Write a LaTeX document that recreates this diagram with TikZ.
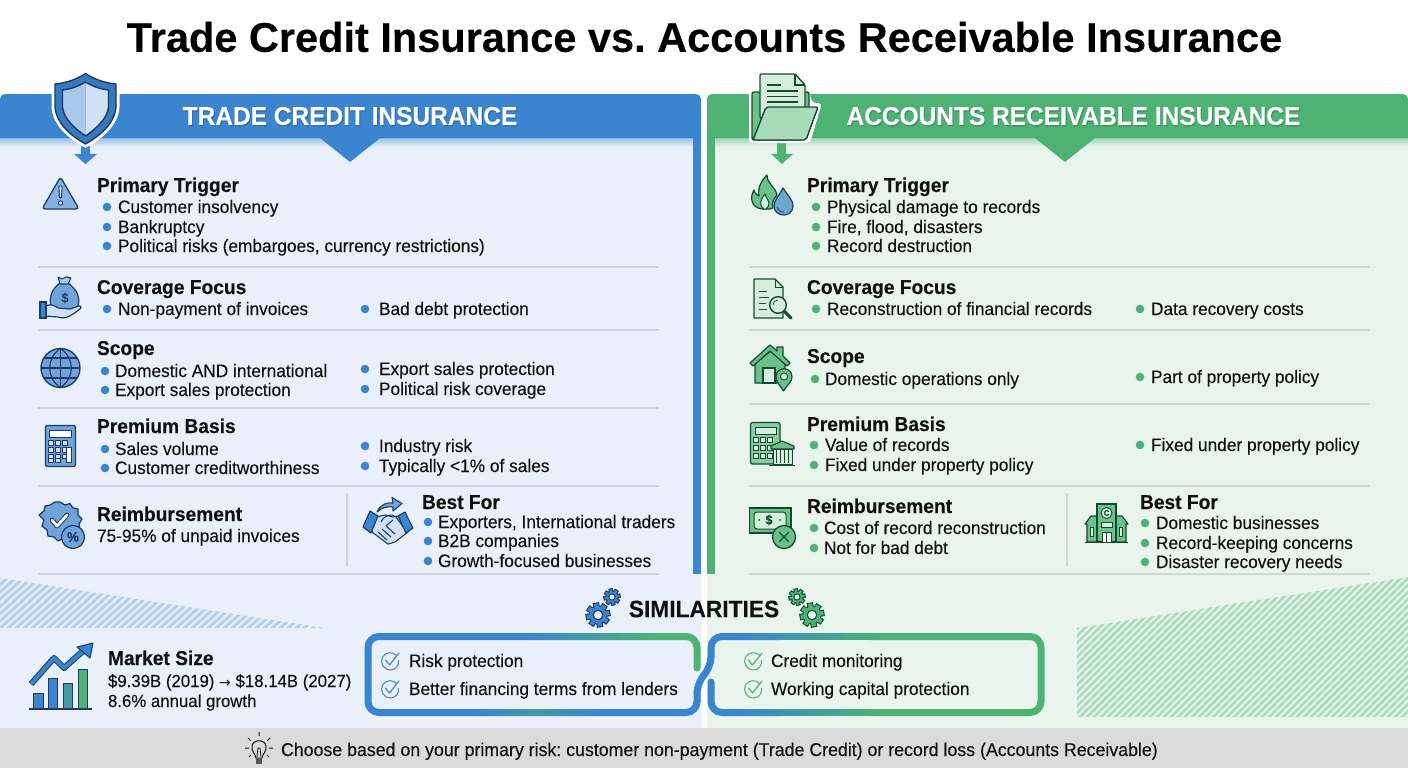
\documentclass[tikz,border=0pt]{standalone}
\usepackage{fontspec}
\setmainfont[FakeStretch=0.96,FakeBold=0.12]{Liberation Sans}
\newfontfamily\titlefont[FakeBold=0.25]{Liberation Sans Bold}
\newfontfamily\arrowfont{DejaVu Sans}
\usetikzlibrary{calc}
\definecolor{bluemain}{HTML}{3B84CF}
\definecolor{greenmain}{HTML}{4DB274}
\definecolor{bluepanel}{HTML}{E9F0F9}
\definecolor{greenpanel}{HTML}{E8F4EC}
\definecolor{navy}{HTML}{1C3A63}
\definecolor{bluelight}{HTML}{A9C9EA}
\definecolor{bluepale}{HTML}{CFE1F3}
\definecolor{bluemid}{HTML}{6FA3DA}
\definecolor{darkgreen}{HTML}{14492E}
\definecolor{greenlight}{HTML}{A8DBB8}
\definecolor{greenpale}{HTML}{D5EEDC}
\definecolor{greenmid}{HTML}{6CC08B}
\definecolor{rulecol}{HTML}{CDD3DC}
\definecolor{rulegreen}{HTML}{CBD9D0}
\definecolor{footer}{HTML}{DBDBDB}
\definecolor{ink}{HTML}{111111}
\colorlet{teal55}{bluemain!55!greenmain}
\tikzset{
  every node/.style={inner sep=0pt,outer sep=0pt},
  titletext/.style={font=\fontsize{41.5}{44}\titlefont,text=black,anchor=center},
  headtext/.style={font=\fontsize{25.5}{30}\selectfont\bfseries,text=white,anchor=center},
  headshadow/.style={font=\fontsize{25.5}{30}\selectfont\bfseries,anchor=center,opacity=.28},
  sechead/.style={font=\fontsize{20}{24}\selectfont\bfseries,text=ink,anchor=base west},
  bodytext/.style={font=\fontsize{18}{22}\selectfont,text=ink,anchor=base west},
  marktext/.style={font=\fontsize{17.5}{22}\selectfont,text=ink,anchor=base west},
  foottext/.style={font=\fontsize{18.5}{22}\selectfont,text=ink,anchor=base west},
  simtitle/.style={font=\fontsize{23.7}{28}\selectfont\bfseries,text=ink,anchor=center},
  divider/.style={line width=1.1pt,draw=rulecol},
  gdivider/.style={line width=1.1pt,draw=rulegreen},
}
\newcommand\hdg[4]{\node[sechead] (#1) at (#2,#3+7) {#4};}
\newcommand\bul[6]{\fill[#5] (#2,#4) circle (4.3);\node[bodytext] (#1) at (#3,#4+6) {#6};}
\newcommand\gradseg[5]{% x0 x1 y colour0 colour1
  \foreach \i in {0,...,24}{
    \pgfmathtruncatemacro\gp{\i*4}
    \pgfmathsetmacro\gxa{#1+(#2-#1)*\i/25}
    \pgfmathsetmacro\gxb{#1+(#2-#1)*(\i+1)/25+.5}
    \colorlet{segc}{#5!\gp!#4}
    \draw[draw=segc,line width=7pt] (\gxb,#3) -- (\gxa,#3);}
}
\newcommand\gearshape[6]{% x y r outline fill hole
  \foreach \a in {0,45,...,135}{
    \fill[#4,rotate around={\a+10:(#1,#2)}] (#1-#3*.34,#2-#3*1.32) rectangle (#1+#3*.34,#2+#3*1.32);}
  \fill[#4] (#1,#2) circle (#3);
  \foreach \a in {0,45,...,135}{
    \fill[#5,rotate around={\a+10:(#1,#2)}] (#1-#3*.34+1.1,#2-#3*1.32+1.1) rectangle (#1+#3*.34-1.1,#2+#3*1.32-1.1);}
  \fill[#5] (#1,#2) circle (#3-1);
  \fill[#4] (#1,#2) circle (#3*.55);
  \fill[#6] (#1,#2) circle (#3*.55-1.2);
}
\newcommand\chk[3]{% x y colour
  \draw[#3,line width=1pt] (#1+6.5,#2-5.5) .. controls (#1+3,#2-9.5) and (#1-4,#2-9.5) .. (#1-7.5,#2-4) .. controls (#1-10.5,#2+2) and (#1-6,#2+9) .. (#1,#2+9) .. controls (#1+6,#2+9) and (#1+9.5,#2+4) .. (#1+8.5,#2-1);
  \draw[#3,line width=1.2pt,line join=round,line cap=round] (#1-4.5,#2-1) -- (#1-.5,#2+4) -- (#1+9,#2-8);
}
\frenchspacing
\begin{document}
\begin{tikzpicture}[x=1pt,y=-1pt]
\useasboundingbox (0,0) rectangle (1408,768);
\fill[white] (0,0) rectangle (1408,768);
% panels
\fill[bluepanel] (0,138) rectangle (702,728);
\fill[greenpanel] (707,138) rectangle (1408,728);
\shade[top color=bluemain!45!bluepanel,bottom color=bluepanel] (0,138) rectangle (693,147);
\shade[top color=greenmain!45!greenpanel,bottom color=greenpanel] (715,138) rectangle (1408,147);
% hatching
\begin{scope}
\clip (0,578) -- (325,628) -- (0,628) -- cycle;
\foreach \i in {-60,-52,...,400}{\draw[bluemain!30!bluepanel,line width=3pt] (\i,632) -- (\i+66,572);}
\end{scope}
\begin{scope}
\clip (1077,628) -- (1408,577) -- (1408,717) -- (1077,717) -- cycle;
\foreach \i in {900,907,...,1420}{\draw[greenmain!38!greenpanel,line width=2.6pt] (\i,722) -- (\i+150,572);}
\end{scope}
% headers
\fill[bluemain] (0,138) [rounded corners=5pt] -- (0,94) -- (701,94) [sharp corners] -- (701,138) -- (380,138) -- (350,162) -- (320,138) -- cycle;
\fill[bluemain] (693,138) rectangle (701,574);
\fill[greenmain] (707,138) [rounded corners=5pt] -- (707,94) -- (1408,94) [sharp corners] -- (1408,138) -- (1095,138) -- (1065,162) -- (1035,138) -- cycle;
\fill[greenmain] (707,138) rectangle (715,574);
% title and header text
\node[titletext] (title) at (704.5,37) {Trade Credit Insurance vs. Accounts Receivable Insurance};
\node[headshadow,text=navy] (lhs) at (351,117.5) {TRADE CREDIT INSURANCE};
\node[headtext] (lh) at (350,116) {TRADE CREDIT INSURANCE};
\node[headshadow,text=darkgreen] (rhs) at (1074.5,117.5) {ACCOUNTS RECEIVABLE INSURANCE};
\node[headtext] (rh) at (1073.5,116) {ACCOUNTS RECEIVABLE INSURANCE};
% dividers
\foreach \y in {267,330,408,486,574}{\draw[divider] (38,\y) -- (659,\y);}
\foreach \y in {267,330,404,486,574}{\draw[gdivider] (749,\y) -- (1370,\y);}
\draw[divider] (347,493) -- (347,566);
\draw[gdivider] (1067,493) -- (1067,566);
% LEFT text
\hdg{l1}{97}{185}{Primary Trigger}
\bul{l1a}{107}{118}{207}{bluemain}{Customer insolvency}
\bul{l1b}{107}{118}{227}{bluemain}{Bankruptcy}
\bul{l1c}{107}{118}{246}{bluemain}{Political risks (embargoes, currency restrictions)}
\hdg{l2}{97}{287}{Coverage Focus}
\bul{l2a}{107}{118}{309}{bluemain}{Non-payment of invoices}
\bul{l2b}{365}{379}{309}{bluemain}{Bad debt protection}
\hdg{l3}{97}{348}{Scope}
\bul{l3a}{105}{115}{371}{bluemain}{Domestic AND international}
\bul{l3b}{105}{115}{390}{bluemain}{Export sales protection}
\bul{l3c}{365}{379}{369}{bluemain}{Export sales protection}
\bul{l3d}{365}{379}{389}{bluemain}{Political risk coverage}
\hdg{l4}{97}{426}{Premium Basis}
\bul{l4a}{105}{115}{449}{bluemain}{Sales volume}
\bul{l4b}{105}{115}{468}{bluemain}{Customer creditworthiness}
\bul{l4c}{365}{379}{446}{bluemain}{Industry risk}
\bul{l4d}{365}{379}{466}{bluemain}{Typically <1\% of sales}
\hdg{l5}{97}{514}{Reimbursement}
\node[bodytext] (l5a) at (97,542) {75-95\% of unpaid invoices};
\hdg{l6}{422}{502}{Best For}
\bul{l6a}{428}{438}{522}{bluemain}{Exporters, International traders}
\bul{l6b}{428}{438}{541}{bluemain}{B2B companies}
\bul{l6c}{428}{438}{561}{bluemain}{Growth-focused businesses}
% RIGHT text
\hdg{r1}{807}{185}{Primary Trigger}
\bul{r1a}{816}{827}{207}{greenmain}{Physical damage to records}
\bul{r1b}{816}{827}{227}{greenmain}{Fire, flood, disasters}
\bul{r1c}{816}{827}{246}{greenmain}{Record destruction}
\hdg{r2}{807}{287}{Coverage Focus}
\bul{r2a}{816}{827}{309}{greenmain}{Reconstruction of financial records}
\bul{r2b}{1140}{1151}{309}{greenmain}{Data recovery costs}
\hdg{r3}{807}{356}{Scope}
\bul{r3a}{815}{825}{379}{greenmain}{Domestic operations only}
\bul{r3b}{1140}{1151}{377}{greenmain}{Part of property policy}
\hdg{r4}{807}{424}{Premium Basis}
\bul{r4a}{814}{825}{445}{greenmain}{Value of records}
\bul{r4b}{814}{825}{465}{greenmain}{Fixed under property policy}
\bul{r4c}{1140}{1151}{445}{greenmain}{Fixed under property policy}
\hdg{r5}{807}{506}{Reimbursement}
\bul{r5a}{814}{824}{528}{greenmain}{Cost of record reconstruction}
\bul{r5b}{814}{824}{548}{greenmain}{Not for bad debt}
\hdg{r6}{1140}{502}{Best For}
\bul{r6a}{1145}{1156}{523}{greenmain}{Domestic businesses}
\bul{r6b}{1145}{1156}{543}{greenmain}{Record-keeping concerns}
\bul{r6c}{1145}{1156}{562}{greenmain}{Disaster recovery needs}
% similarities
\node[simtitle] (sim) at (704,609) {SIMILARITIES};
\gearshape{598}{615}{9.5}{navy}{bluemain}{bluepanel}
\gearshape{612}{597}{6.6}{navy}{bluemain}{bluepanel}
\gearshape{797}{597}{6.6}{darkgreen}{greenmain}{greenpanel}
\gearshape{812}{615}{9.5}{darkgreen}{greenmain}{greenpanel}
% similarity boxes
\draw[bluemain,line width=7pt,rounded corners=11pt,line cap=round] (640,712.5) -- (368,712.5) -- (368,636.5) -- (640,636.5);
\draw[greenmain,line width=7pt,rounded corners=11pt,line cap=round] (640,636.5) -- (697,636.5) -- (697,668);
\gradseg{525}{650}{636.5}{bluemain}{greenmain}
\gradseg{480}{535}{712.5}{bluemain}{teal55}
\gradseg{535}{600}{712.5}{teal55}{bluemain}
\draw[bluemain,line width=7pt,rounded corners=11pt] (640,712.5) -- (697,712.5) -- (697,682) -- (711,668) -- (711,636.5) -- (780,636.5);
\draw[bluemain,line width=7pt,rounded corners=11pt,line cap=round] (711,682) -- (711,712.5) -- (780,712.5);
\draw[greenmain,line width=7pt,rounded corners=11pt] (870,636.5) -- (1041,636.5) -- (1041,712.5) -- (870,712.5);
\gradseg{735}{880}{636.5}{bluemain}{greenmain}
\gradseg{735}{880}{712.5}{bluemain}{greenmain}
\chk{390}{661}{bluemain!85!gray}
\chk{390}{689}{bluemain!85!gray}
\chk{753}{661}{greenmain}
\chk{753}{689}{greenmain}
\node[bodytext] (s1) at (409,667) {Risk protection};
\node[bodytext] (s2) at (409,695) {Better financing terms from lenders};
\node[bodytext] (s3) at (771,667) {Credit monitoring};
\node[bodytext] (s4) at (771,695) {Working capital protection};
% market size
\node[sechead] (m0) at (108,665) {Market Size};
\node[marktext] (m1) at (108,687) {\$9.39B (2019) {\arrowfont\fontsize{14}{14}\selectfont →} \$18.14B (2027)};
\node[marktext] (m2) at (108,707) {8.6\% annual growth};
\fill[bluemain,draw=navy,line width=.9pt] (33,708) rectangle (43,693);
\fill[bluemain,draw=navy,line width=.9pt] (48,708) rectangle (57.5,678);
\fill[bluemain!55!greenmain,draw=navy,line width=.9pt] (63,708) rectangle (72.5,683);
\fill[greenmain,draw=navy,line width=.9pt] (78,708) rectangle (87,669);
\draw[navy,line width=1.4pt] (28.5,709) -- (92,709);
\draw[navy,line width=6pt,line join=round] (31,684) -- (54,658) -- (64,668) -- (83,651);
\draw[bluemain,line width=4pt,line join=round] (31,684) -- (54,658) -- (64,668) -- (83,651);
\fill[bluemain,draw=navy,line width=1pt,line join=round] (93,643) -- (90,658) -- (77,647) -- cycle;
% footer
\fill[footer] (0,728) rectangle (1408,768);
\node[foottext] (foot) at (281,756) {Choose based on your primary risk: customer non-payment (Trade Credit) or record loss (Accounts Receivable)};
% bulb
\begin{scope}[shift={(259,750)}]
\draw[ink,line width=1pt,line join=round] (-3,8) .. controls (-4,3) and (-8,1) .. (-7,-4) .. controls (-6,-11) and (6,-11) .. (7,-4) .. controls (8,1) and (4,3) .. (3,8) -- cycle;
\draw[ink,line width=.8pt] (-2,7) -- (-1,-2) -- (1,-2) -- (2,7);
\fill[ink!70] (-3,9) rectangle (3,13.5);
\draw[ink,line width=1pt] (0,-18) -- (0,-14) (-11,-12) -- (-8.5,-9.5) (11,-12) -- (8.5,-9.5) (-14,-2) -- (-10,-2) (14,-2) -- (10,-2) (-10,7) -- (-8,5) (10,7) -- (8,5);
\end{scope}
% SHIELD + arrow
\fill[bluemain] (81,146) rectangle (90,155);
\fill[bluemain] (74,154) -- (97,154) -- (85.5,164) -- cycle;
\begin{scope}[shift={(85.5,0)}]
\fill[white] (0,70) .. controls (-12,77) and (-22,80) .. (-34,81) -- (-34,107) .. controls (-33,126) and (-15,140) .. (0,148) .. controls (15,140) and (33,126) .. (34,107) -- (34,81) .. controls (22,80) and (12,77) .. (0,70) -- cycle;
\fill[bluemain!85!navy,draw=navy,line width=1.4pt,line join=round] (0,73.5) .. controls (-10,80) and (-20,83) .. (-30.5,84) -- (-30.5,107) .. controls (-29,124) and (-14,136) .. (0,144) .. controls (14,136) and (29,124) .. (30.5,107) -- (30.5,84) .. controls (20,83) and (10,80) .. (0,73.5) -- cycle;
\fill[bluelight] (0,82) .. controls (-8,87) and (-15,89) .. (-23,90) -- (-23,107) .. controls (-22,119) and (-10,129) .. (0,136) -- cycle;
\fill[bluepale] (0,82) .. controls (8,87) and (15,89) .. (23,90) -- (23,107) .. controls (22,119) and (10,129) .. (0,136) -- cycle;
\draw[navy,line width=1.4pt,line join=round] (0,82) .. controls (-8,87) and (-15,89) .. (-23,90) -- (-23,107) .. controls (-22,119) and (-10,129) .. (0,136) .. controls (10,129) and (22,119) .. (23,107) -- (23,90) .. controls (15,89) and (8,87) .. (0,82) -- cycle;
\end{scope}
% FOLDER + arrow
\fill[greenmain] (777,143) rectangle (786,155);
\fill[greenmain] (771,154) -- (793,154) -- (782,164) -- cycle;
\fill[white,rounded corners=4pt] (749,89) -- (757,89) -- (757,71) -- (806,71) -- (809,90) -- (812,103) -- (822,103) -- (810,143) -- (749,143) -- cycle;
\fill[greenmid,draw=darkgreen,line width=1.3pt,rounded corners=2pt] (752,92) -- (809,92) -- (809,112) -- (803,140) -- (752,140) -- cycle;
\fill[greenpale,draw=darkgreen,line width=1.3pt,rounded corners=1pt,line join=round] (760,74) -- (795,74) -- (805,85) -- (805,118) -- (760,118) -- cycle;
\draw[darkgreen,line width=1.2pt] (795,74) -- (795,85) -- (805,85);
\draw[darkgreen,line width=1.1pt] (767,85) -- (781,85) (767,91) -- (798,91) (767,96.5) -- (798,96.5) (767,102) -- (798,102);
\fill[greenlight,draw=darkgreen,line width=1.4pt,rounded corners=2pt] (753,140) -- (766,107) -- (818,107) -- (806,140) -- cycle;
% warning triangle
\fill[bluemid!85!white,draw=navy,line width=1.3pt,line join=round,rounded corners=3pt] (60.5,177) -- (79,209) -- (42,209) -- cycle;
\draw[navy,line width=.9pt,fill=bluepale,rounded corners=.8pt] (58.8,186) -- (62.2,186) -- (61.4,198) -- (59.6,198) -- cycle;
\draw[navy,line width=.9pt,fill=bluepale] (60.5,203) circle (2.2);
% fire + drop
\fill[greenmid,draw=darkgreen,line width=1.2pt,line join=round] (762,209) .. controls (752,208) and (749,198) .. (754,190) .. controls (755,194) and (757,195) .. (759,196) .. controls (757,188) and (762,180) .. (767,175) .. controls (767,184) and (775,186) .. (777,195) .. controls (772,200) and (772,205) .. (773,208) -- (770,209) -- cycle;
\fill[greenpale,draw=darkgreen,line width=1pt,line join=round] (764,209) .. controls (758,205) and (761,199) .. (765,194) .. controls (766,198) and (769,200) .. (769,203) .. controls (769,205) and (768,208) .. (766,209) -- cycle;
\fill[bluemid!80!greenmid,draw=navy,line width=1.2pt,line join=round] (783,188) .. controls (788,196) and (793,200) .. (793,206) .. controls (793,212) and (788,215) .. (784,215) .. controls (779,215) and (774,212) .. (774,206) .. controls (774,200) and (779,196) .. (783,188) -- cycle;
\draw[navy,line width=.8pt] (777,207) .. controls (778,210) and (780,212) .. (784,212);
% money bag + hand
\fill[bluemid,draw=navy,line width=1.2pt,line join=round] (60,283) .. controls (51,289) and (49,299) .. (51,306) .. controls (55,311) and (72,311) .. (78,306) .. controls (81,296) and (75,288) .. (68,283) -- cycle;
\fill[bluelight,draw=navy,line width=1.1pt,line join=round] (58,277) -- (62,279) -- (66,277) -- (71,278) -- (68,284) -- (60,284) -- cycle;
\node[font=\fontsize{13}{13}\selectfont,text=navy,anchor=center] (bagd) at (65,298) {\$};
\fill[bluepale,draw=navy,line width=1.2pt,line join=round] (45,306) .. controls (50,304) and (54,305) .. (58,308) -- (70,309) -- (79,306) .. controls (82,306) and (81,308) .. (80,309) .. controls (72,315) and (66,320) .. (58,317) -- (45,316) -- cycle;
\fill[bluemain,draw=navy,line width=1.2pt] (40,302) rectangle (46,318);
% doc + magnifier
\fill[greenpale,draw=darkgreen,line width=1.2pt,line join=round] (754,279) -- (775,279) -- (783,287) -- (783,318) -- (754,318) -- cycle;
\draw[darkgreen,line width=1pt] (775,279) -- (775,287) -- (783,287) (759,291) -- (767,291) (759,297) -- (769,297) (759,303) -- (766,303) (759,309) -- (767,309);
\draw[darkgreen,line width=3pt,line cap=round] (784,311) -- (791,318);
\fill[greenpale,draw=darkgreen,line width=1.4pt] (778,305) circle (8.3);
\draw[darkgreen,line width=.8pt] (773,305) .. controls (773,302) and (775,300) .. (778,300);
% globe
\fill[bluemid,draw=navy,line width=1.3pt] (60.5,368) circle (19.5);
\draw[navy,line width=1.1pt] (60.5,348.5) -- (60.5,387.5) (41,368) -- (80,368) (44,358) -- (77,358) (44,378) -- (77,378);
\draw[navy,line width=1.1pt] (60.5,348.5) .. controls (46,358) and (46,378) .. (60.5,387.5) .. controls (75,378) and (75,358) .. (60.5,348.5);
% house + pin
\fill[greenmid,draw=darkgreen,line width=1.2pt,line join=round] (755,363) -- (771,351) -- (785,363) -- (785,383) -- (755,383) -- cycle;
\fill[greenpale,draw=darkgreen,line width=1.1pt] (763,383) -- (763,368) -- (775,368) -- (775,383) -- cycle;
\fill[greenmid,draw=darkgreen,line width=1.2pt,line join=round] (750,363) -- (770,345) -- (777,351) -- (777,347) -- (783,347) -- (783,356) -- (790,363) -- (787,366) -- (770,351) -- (753,366) -- cycle;
\fill[greenmid,draw=darkgreen,line width=1.2pt,line join=round] (783.5,391) .. controls (780,385) and (776,382) .. (776,377) .. controls (776,366) and (792,366) .. (792,377) .. controls (792,382) and (787,385) .. (783.5,391) -- cycle;
\fill[greenpale,draw=darkgreen,line width=.9pt] (784,376.5) circle (3.6);
% calculator
\fill[bluemid,draw=navy,line width=1.3pt,rounded corners=2pt] (45.5,425.5) rectangle (75.5,466.5);
\fill[white,draw=navy,line width=.9pt] (49.5,430) rectangle (71.5,437);
\foreach \cx in {51,58,65}{\foreach \cy in {443,450,456.5}{\fill[bluepale,draw=navy,line width=.8pt] (\cx-2.4,\cy-2.2) rectangle (\cx+2.4,\cy+2.2);}}
\fill[white,draw=navy,line width=.7pt] (66.5,447) rectangle (71,462);
\foreach \cx in {51,58}{\fill[bluepale,draw=navy,line width=.8pt] (\cx-2.4,458) rectangle (\cx+2.4,462);}
% calc + bank
\fill[greenmid!80!white,draw=darkgreen,line width=1.2pt,rounded corners=2pt] (750.5,422.5) rectangle (780,464);
\fill[greenpale,draw=darkgreen,line width=.9pt] (755,427) rectangle (776,434);
\foreach \cx in {756,763,770}{\foreach \cy in {440,448,456}{\fill[greenpale,draw=darkgreen,line width=.8pt] (\cx-2.3,\cy-2.2) rectangle (\cx+2.3,\cy+2.2);}}
\fill[greenmid,draw=darkgreen,line width=1.1pt,line join=round] (771,446) -- (782,441) -- (794,446) -- (794,449) -- (771,449) -- cycle;
\fill[greenpale,draw=darkgreen,line width=.9pt] (773,449) rectangle (792,464);
\draw[darkgreen,line width=1.2pt] (776.5,450) -- (776.5,463) (780.5,450) -- (780.5,463) (784.5,450) -- (784.5,463) (788.5,450) -- (788.5,463);
\draw[darkgreen,line width=1.8pt] (769,465.5) -- (795,465.5);
% badge + percent
\fill[bluemid,draw=navy,line width=1.2pt,line join=round] (60,502) -- (65,505) -- (70,503.5) -- (73,508) -- (78,509) -- (78,515) -- (82,519) -- (79,524) -- (80,530) -- (75,533) -- (70,541) -- (64,538) -- (58,541) -- (54,537) -- (48,536) -- (47,530) -- (42,526) -- (44,520) -- (39,515) -- (44,511) -- (45,506) -- (50,505) -- (55,502) -- cycle;
\draw[navy,line width=4.8pt,line join=round,line cap=round] (52,520) -- (57,526) -- (67,515);
\draw[white,line width=2.8pt,line join=round,line cap=round] (52,520) -- (57,526) -- (67,515);
\fill[bluemid,draw=navy,line width=1.2pt] (73,537) circle (11.5);
\node[font=\fontsize{14}{14}\selectfont\bfseries,text=navy,anchor=center] (pct) at (73,537) {\%};
% cash + x
\fill[greenmid,draw=darkgreen,line width=1.2pt] (749.5,508) rectangle (791,533);
\fill[greenpale,draw=darkgreen,line width=1pt,rounded corners=3pt] (754,512) rectangle (786,529);
\node[font=\fontsize{13}{13}\selectfont\bfseries,text=darkgreen,anchor=center] (cashd) at (769,520) {\$};
\fill[darkgreen] (759,520) circle (1) (780,520) circle (1);
\fill[greenmid,draw=darkgreen,line width=1.3pt] (784,537) circle (11.5);
\draw[darkgreen,line width=1.3pt,line cap=round] (779.5,532.5) -- (788.5,541.5) (788.5,532.5) -- (779.5,541.5);
% handshake
\fill[bluemid,draw=navy,line width=1.1pt,line join=round] (377,512) .. controls (380,504) and (388,502) .. (393,503) -- (392,497.5) -- (402,503.5) -- (393,511) -- (393,507) .. controls (387,506) and (381,508) .. (377,512) -- cycle;
\fill[bluepale,draw=navy,line width=1.1pt,line join=round] (372,518) -- (385,515) -- (393,517) -- (403,515) -- (408,532) -- (395,542) -- (388,544) -- (372,532) -- cycle;
\draw[navy,line width=1.1pt,line join=round] (381,522) .. controls (384,515) and (392,513) .. (396,517) -- (404,528) (386,526) -- (393,520) (378,532) -- (387,540) (382,529) -- (391,537) (386,526) -- (395,534);
\fill[bluemain,draw=navy,line width=1.1pt,line join=round] (370,511) -- (378,516) -- (371,533) -- (363,527) -- cycle;
\fill[bluemain,draw=navy,line width=1.1pt,line join=round] (405,512) -- (398,516) -- (406,533) -- (413,528) -- cycle;
% building
\fill[greenmid,draw=darkgreen,line width=1.1pt,line join=round] (1085,524) -- (1091,516) -- (1097,516) -- (1097,542) -- (1087,542) -- (1087,524) -- cycle;
\fill[greenmid,draw=darkgreen,line width=1.1pt,line join=round] (1128,524) -- (1122,516) -- (1116,516) -- (1116,542) -- (1126,542) -- (1126,524) -- cycle;
\fill[greenmid,draw=darkgreen,line width=1.1pt] (1097,504) rectangle (1116,542);
\fill[greenpale,draw=darkgreen,line width=.9pt] (1106.5,513) circle (5.5);
\node[font=\fontsize{8}{8}\selectfont\bfseries,text=darkgreen,anchor=center] (bldc) at (1106.5,513) {C};
\fill[greenpale,draw=darkgreen,line width=.9pt] (1101,522) rectangle (1112,527);
\fill[white,draw=darkgreen,line width=.9pt] (1102,532) rectangle (1111,542);
\draw[darkgreen,line width=.9pt] (1106.5,532) -- (1106.5,542);
\fill[greenpale,draw=darkgreen,line width=.8pt] (1090.5,527) rectangle (1093.5,536);
\fill[greenpale,draw=darkgreen,line width=.8pt] (1119.5,527) rectangle (1122.5,536);
\draw[darkgreen,line width=1.3pt] (1085,542.8) -- (1128,542.8);
\end{tikzpicture}
\end{document}
